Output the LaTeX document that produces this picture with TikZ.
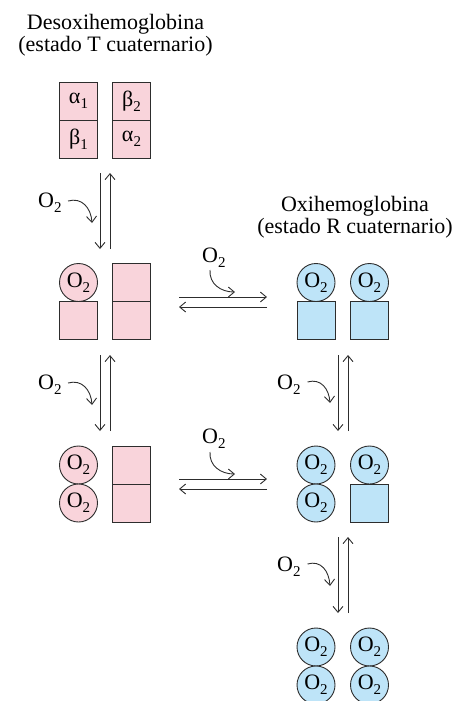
\documentclass[tikz,border=0pt]{standalone}
\usepackage{fontspec}
\setmainfont{Liberation Serif}
\usetikzlibrary{arrows.meta}
\definecolor{pinkf}{RGB}{249,212,219}
\definecolor{bluef}{RGB}{190,228,248}
\definecolor{edgec}{RGB}{45,45,45}
\newcommand{\sbs}[1]{\raisebox{-0.23em}{\fontsize{15}{15}\selectfont #1}}
\newcommand{\Oxy}{O\sbs{2}}
\begin{document}
\begin{tikzpicture}[x=1pt,y=-1pt,
  font=\fontsize{22}{22}\selectfont,
  sq/.style={draw=edgec,line width=0.9pt,minimum width=38pt,minimum height=38pt,inner sep=0pt},
  pk/.style={sq,fill=pinkf}, bl/.style={sq,fill=bluef},
  cir/.style={circle,draw=edgec,line width=0.9pt,minimum size=38pt,inner sep=0pt},
  pc/.style={cir,fill=pinkf}, bc/.style={cir,fill=bluef},
  arr/.style={draw=edgec,line width=0.9pt,-{Straight Barb[length=6pt,width=10pt]}},
  lbl/.style={inner sep=0pt,anchor=base west},
  ttl/.style={inner sep=0pt,anchor=base}]
\useasboundingbox (0,0) rectangle (455,701);
\clip (0,0) rectangle (455,701);

% titles
\node[ttl] (t1a) at (115.5,30) {Desoxihemoglobina};
\node[ttl] (t1b) at (115.5,52) {(estado T cuaternario)};
\node[ttl] (t2a) at (355,211.5) {Oxihemoglobina};
\node[ttl] (t2b) at (355,233.5) {(estado R cuaternario)};

% row 1 (T state)
\node[pk] (r1a) at (78.5,101) {α\sbs{1}};
\node[pk] (r1b) at (78.5,139) {β\sbs{1}};
\node[pk] (r1c) at (131.5,101) {β\sbs{2}};
\node[pk] (r1d) at (131.5,139) {α\sbs{2}};

% row 2 left
\node[pc] (r2a) at (78.5,282.5) {\Oxy};
\node[pk] (r2b) at (78.5,320.5) {};
\node[pk] (r2c) at (131.5,282.5) {};
\node[pk] (r2d) at (131.5,320.5) {};

% row 3 left
\node[pc] (r3a) at (78.5,465) {\Oxy};
\node[pc] (r3b) at (78.5,503) {\Oxy};
\node[pk] (r3c) at (131.5,465) {};
\node[pk] (r3d) at (131.5,503) {};

% row 2 right
\node[bc] (s2a) at (316,282.5) {\Oxy};
\node[bl] (s2b) at (316,320.5) {};
\node[bc] (s2c) at (369.5,282.5) {\Oxy};
\node[bl] (s2d) at (369.5,320.5) {};

% row 3 right
\node[bc] (s3a) at (316,465) {\Oxy};
\node[bc] (s3b) at (316,503) {\Oxy};
\node[bc] (s3c) at (369.5,465) {\Oxy};
\node[bl] (s3d) at (369.5,503) {};

% row 4 right
\node[bc] (s4a) at (316,647) {\Oxy};
\node[bc] (s4b) at (316,685) {\Oxy};
\node[bc] (s4c) at (369.5,647) {\Oxy};
\node[bc] (s4d) at (369.5,685) {\Oxy};

% arrow end coordinates
\coordinate (v1t) at (100,173);   \coordinate (v1b) at (100,249);
\coordinate (u1t) at (110,173);   \coordinate (u1b) at (110,249);
\coordinate (v2t) at (100,355);   \coordinate (v2b) at (100,431);
\coordinate (u2t) at (110,355);   \coordinate (u2b) at (110,431);
\coordinate (w2t) at (338,355);   \coordinate (w2b) at (338,431);
\coordinate (x2t) at (348,355);   \coordinate (x2b) at (348,431);
\coordinate (w3t) at (338,537);   \coordinate (w3b) at (338,613);
\coordinate (x3t) at (348,537);   \coordinate (x3b) at (348,613);
\coordinate (h2l) at (179,297);   \coordinate (h2r) at (267,297);
\coordinate (k2l) at (179,307);   \coordinate (k2r) at (267,307);
\coordinate (h3l) at (179,479);   \coordinate (h3r) at (267,479);
\coordinate (k3l) at (179,489);   \coordinate (k3r) at (267,489);

% vertical double arrows
\draw[arr] (v1t) -- (v1b);  \draw[arr] (u1b) -- (u1t);
\draw[arr] (v2t) -- (v2b);  \draw[arr] (u2b) -- (u2t);
\draw[arr] (w2t) -- (w2b);  \draw[arr] (x2b) -- (x2t);
\draw[arr] (w3t) -- (w3b);  \draw[arr] (x3b) -- (x3t);
% horizontal double arrows
\draw[arr] (h2l) -- (h2r);  \draw[arr] (k2r) -- (k2l);
\draw[arr] (h3l) -- (h3r);  \draw[arr] (k3r) -- (k3l);

% O2 labels with curved arrows
\node[lbl] (o1) at (38,207) {\Oxy};
\coordinate (c1s) at (68,201); \coordinate (c1e) at (92,223);
\draw[arr] (c1s) .. controls (82,197) and (91,208) .. (c1e);

\node[lbl] (o2) at (38,389) {\Oxy};
\coordinate (c2s) at (68,383); \coordinate (c2e) at (92,405);
\draw[arr] (c2s) .. controls (82,379) and (91,390) .. (c2e);

\node[lbl] (o3) at (277,389) {\Oxy};
\coordinate (c3s) at (307.5,382); \coordinate (c3e) at (330,403);
\draw[arr] (c3s) .. controls (321,378) and (329,389) .. (c3e);

\node[lbl] (o4) at (277,571) {\Oxy};
\coordinate (c4s) at (307.5,564); \coordinate (c4e) at (330,586);
\draw[arr] (c4s) .. controls (321,560) and (329,571) .. (c4e);

\node[lbl] (o5) at (202,262) {\Oxy};
\coordinate (c5s) at (210,270); \coordinate (c5e) at (235,292);
\draw[arr] (c5s) .. controls (209,284) and (221,292) .. (c5e);

\node[lbl] (o6) at (202,443) {\Oxy};
\coordinate (c6s) at (210,452); \coordinate (c6e) at (235,474);
\draw[arr] (c6s) .. controls (209,466) and (221,474) .. (c6e);
\end{tikzpicture}
\end{document}
